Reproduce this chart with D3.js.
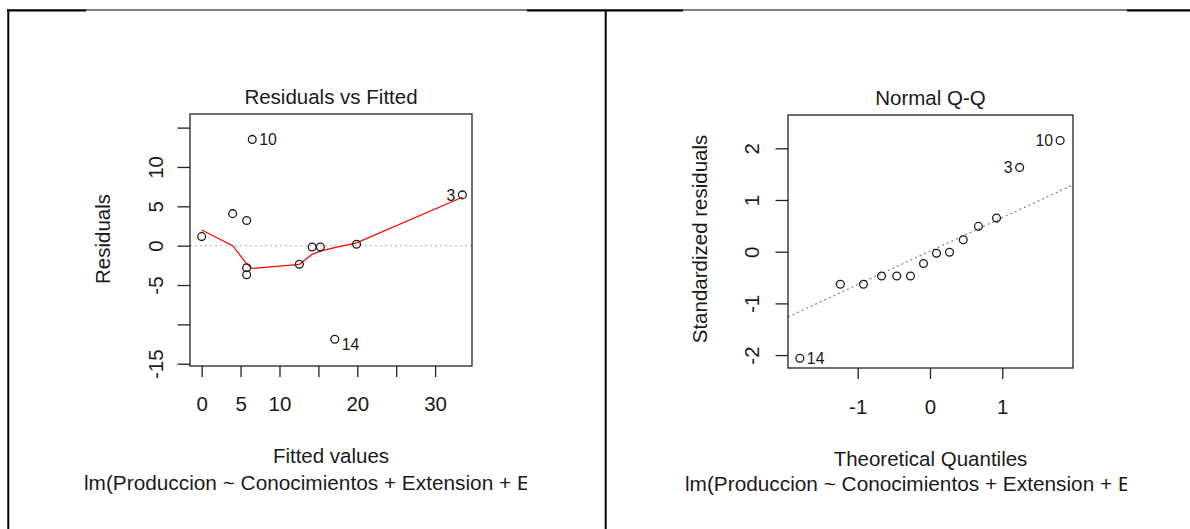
<!DOCTYPE html>
<html>
<head>
<meta charset="utf-8">
<script src="https://cdn.jsdelivr.net/npm/d3@7"></script>
<style>
body { margin: 0; background: #fff; }
svg text { font-family: "Liberation Sans", Arial, sans-serif; fill: #1a1a1a; }
</style>
</head>
<body>
<svg id="chart" width="1190" height="529"></svg>
<script>
// ---- Residuals vs Fitted ----
var fitted    = [0, 3.98, 5.78, 5.78, 5.78, 6.5, 12.55, 14.2, 15.25, 17.1, 19.9, 33.5];
var residuals = [1.15, 4.07, 3.2, -2.8, -3.7, 13.5, -2.37, -0.17, -0.17, -11.9, 0.18, 6.45];
var residIdIndex = [5, 9, 11];
var residIdText  = ["10", "14", "3"];
var residIdSide  = ["right", "right", "left"];
var smoothX = [0, 3.98, 5.78, 6.5, 12.55, 14.2, 15.25, 17.1, 19.9, 33.5];
var smoothY = [2.0, 0.0, -2.3, -2.9, -2.37, -1.1, -0.7, -0.25, 0.35, 6.15];
var residXTicks  = [0, 5, 10, 15, 20, 25, 30];
var residXLabels = ["0", "5", "10", "", "20", "", "30"];
var residYTicks  = [-15, -10, -5, 0, 5, 10, 15];
var residYLabels = ["-15", "", "-5", "0", "5", "10", ""];

// ---- Normal Q-Q ----
var theoQ    = [-1.80, -1.24, -0.92, -0.67, -0.46, -0.27, -0.09, 0.09, 0.27, 0.46, 0.67, 0.92, 1.24, 1.80];
var stdResid = [-2.06, -0.63, -0.63, -0.47, -0.47, -0.47, -0.23, -0.03, -0.01, 0.23, 0.49, 0.65, 1.63, 2.15];
var qqIdIndex = [0, 12, 13];
var qqIdText  = ["14", "3", "10"];
var qqIdSide  = ["right", "left", "left"];
var qqLineIntercept = 0.01;
var qqLineSlope = 0.648;
var qqXTicks  = [-1, 0, 1];
var qqXLabels = ["-1", "0", "1"];
var qqYTicks  = [-2, -1, 0, 1, 2];
var qqYLabels = ["-2", "-1", "0", "1", "2"];

// the caption is cut by the edge of the pasted picture, as in the original
var subCaption = "lm(Produccion ~ Conocimientos + Extension + Edad + Escolaridad)";
var fs = 20.5;

var svg = d3.select("#chart");

// page frame (table borders of the document)
var frame = svg.append("g").attr("stroke", "#000");
frame.append("line").attr("x1", 7).attr("x2", 1190).attr("y1", 10).attr("y2", 10).attr("stroke-width", 1);
[[7, 86], [527, 683], [1127, 1190]].forEach(function (s) {
    frame.append("line").attr("x1", s[0]).attr("x2", s[1]).attr("y1", 10.5).attr("y2", 10.5).attr("stroke-width", 2.2);
});
frame.append("line").attr("x1", 8.3).attr("x2", 8.3).attr("y1", 9.5).attr("y2", 529).attr("stroke-width", 2);
frame.append("line").attr("x1", 605.7).attr("x2", 605.7).attr("y1", 9.5).attr("y2", 529).attr("stroke-width", 2);

function panel(cfg) {
    var x = d3.scaleLinear().domain(cfg.xDomain).range([cfg.box.left, cfg.box.right]);
    var y = d3.scaleLinear().domain(cfg.yDomain).range([cfg.box.bottom, cfg.box.top]);
    var g = svg.append("g");

    var clipId = "clip" + cfg.id;
    svg.append("clipPath").attr("id", clipId).append("rect")
        .attr("x", cfg.clip[0]).attr("y", 12).attr("width", cfg.clip[1] - cfg.clip[0]).attr("height", 510);
    var c = g.append("g").attr("clip-path", "url(#" + clipId + ")");

    // reference line
    if (cfg.refLine) cfg.refLine(c, x, y);

    // smooth
    if (cfg.smooth) {
        var line = d3.line().x(function (d) { return x(d[0]); }).y(function (d) { return y(d[1]); });
        c.append("path").datum(d3.zip(cfg.smooth[0], cfg.smooth[1]))
            .attr("d", line).attr("fill", "none").attr("stroke", "#ff0000").attr("stroke-width", 1.2);
    }

    // points
    c.selectAll("circle.pt").data(d3.zip(cfg.xs, cfg.ys)).enter().append("circle")
        .attr("class", "pt")
        .attr("cx", function (d) { return x(d[0]); })
        .attr("cy", function (d) { return y(d[1]); })
        .attr("r", 3.9).attr("fill", "none").attr("stroke", "#1a1a1a").attr("stroke-width", 1.3);

    // id labels
    cfg.idIndex.forEach(function (k, i) {
        var px = x(cfg.xs[k]), py = y(cfg.ys[k]);
        if (cfg.shiftNeg && cfg.ys[k] < 0) py += 5;
        c.append("text")
            .attr("x", cfg.idSide[i] === "right" ? px + 7 : px - 7)
            .attr("y", py).attr("dy", "0.36em")
            .attr("text-anchor", cfg.idSide[i] === "right" ? "start" : "end")
            .style("font-size", "15.8px")
            .text(cfg.idText[i]);
    });

    // box
    c.append("rect").attr("x", cfg.box.left).attr("y", cfg.box.top)
        .attr("width", cfg.box.right - cfg.box.left).attr("height", cfg.box.bottom - cfg.box.top)
        .attr("fill", "none").attr("stroke", "#222").attr("stroke-width", 1.3);

    // x axis
    var xa = c.append("g").attr("transform", "translate(0," + cfg.box.bottom + ")")
        .call(d3.axisBottom(x).tickValues(cfg.xTicks).tickSize(11).tickSizeOuter(0)
            .tickFormat(function (d, i) { return cfg.xLabels[i]; }));
    xa.select(".domain").remove();
    xa.selectAll("line").attr("stroke", "#222").attr("stroke-width", 1.3);
    xa.selectAll("text").attr("dy", null).attr("y", cfg.xLabelY)
        .style("font-size", fs + "px").attr("fill", "#1a1a1a");

    // y axis
    var ya = c.append("g").attr("transform", "translate(" + cfg.box.left + ",0)")
        .call(d3.axisLeft(y).tickValues(cfg.yTicks).tickSize(12.5).tickSizeOuter(0)
            .tickFormat(function (d, i) { return cfg.yLabels[i]; }));
    ya.select(".domain").remove();
    ya.selectAll("line").attr("stroke", "#222").attr("stroke-width", 1.3);
    ya.selectAll("text").attr("x", null).attr("dy", null).attr("text-anchor", "middle")
        .attr("transform", "translate(" + cfg.yLabelX + ",0) rotate(-90)")
        .style("font-size", fs + "px").attr("fill", "#1a1a1a");

    var cx = (cfg.box.left + cfg.box.right) / 2;
    c.append("text").attr("x", cx).attr("y", cfg.titleY).attr("text-anchor", "middle")
        .style("font-size", fs + "px").text(cfg.title);
    c.append("text").attr("x", cx).attr("y", cfg.xTitleY).attr("text-anchor", "middle")
        .style("font-size", fs + "px").text(cfg.xTitle);
    c.append("text").attr("transform", "translate(" + cfg.yTitleX + "," + cfg.yTitleCY + ") rotate(-90)")
        .attr("text-anchor", "middle").style("font-size", fs + "px").text(cfg.yTitle);
    c.append("text").attr("x", cfg.subX).attr("y", cfg.subY)
        .style("font-size", "20.8px").text(subCaption);
}

panel({
    id: "a",
    box: { left: 190, right: 472, top: 114, bottom: 366 },
    clip: [80, 527],
    xDomain: [-1.5, 34.74], yDomain: [-15.29, 16.73],
    xs: fitted, ys: residuals,
    idIndex: residIdIndex, idText: residIdText, idSide: residIdSide, shiftNeg: true,
    smooth: [smoothX, smoothY],
    refLine: function (c, x, y) {
        c.append("line").attr("x1", x.range()[0]).attr("x2", x.range()[1])
            .attr("y1", y(0)).attr("y2", y(0))
            .attr("stroke", "#bebebe").attr("stroke-width", 1.2).attr("stroke-dasharray", "2,3");
    },
    xTicks: residXTicks, xLabels: residXLabels, yTicks: residYTicks, yLabels: residYLabels,
    xLabelY: 45, yLabelX: -27,
    title: "Residuals vs Fitted", titleY: 104,
    xTitle: "Fitted values", xTitleY: 463,
    yTitle: "Residuals", yTitleX: 110, yTitleCY: 239,
    subX: 84, subY: 490
});

panel({
    id: "b",
    box: { left: 788, right: 1073, top: 115, bottom: 368 },
    clip: [683, 1127],
    xDomain: [-1.964, 1.978], yDomain: [-2.25, 2.644],
    xs: theoQ, ys: stdResid,
    idIndex: qqIdIndex, idText: qqIdText, idSide: qqIdSide, shiftNeg: false,
    refLine: function (c, x, y) {
        var d = x.domain();
        c.append("line").attr("x1", x(d[0])).attr("x2", x(d[1]))
            .attr("y1", y(qqLineIntercept + qqLineSlope * d[0]))
            .attr("y2", y(qqLineIntercept + qqLineSlope * d[1]))
            .attr("stroke", "#7f7f7f").attr("stroke-width", 1.2).attr("stroke-dasharray", "2,3");
    },
    xTicks: qqXTicks, xLabels: qqXLabels, yTicks: qqYTicks, yLabels: qqYLabels,
    xLabelY: 46, yLabelX: -29.5,
    title: "Normal Q-Q", titleY: 105,
    xTitle: "Theoretical Quantiles", xTitleY: 466,
    yTitle: "Standardized residuals", yTitleX: 706.5, yTitleCY: 239,
    subX: 685, subY: 491
});
</script>
</body>
</html>
